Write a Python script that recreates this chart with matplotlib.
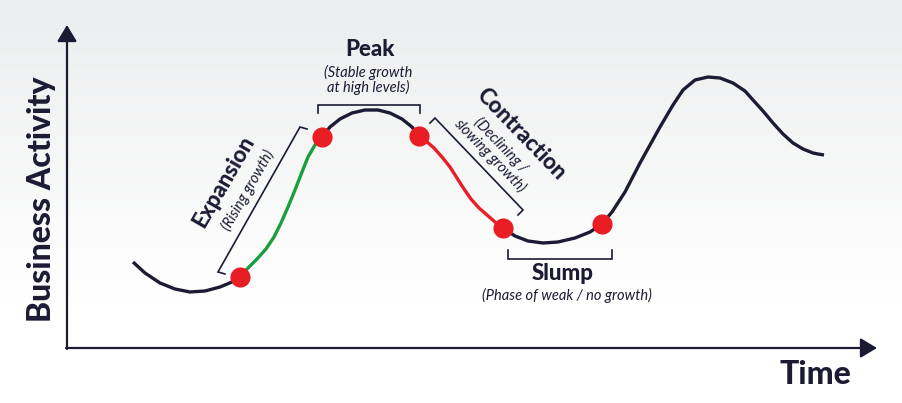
import numpy as np
import matplotlib.pyplot as plt

# colours
NAVY = "#1d1b34"
GREEN = "#1b9e3e"
RED = "#e91e25"

plt.rcParams["font.family"] = ["Lato", "DejaVu Sans"]

# curve (time, activity), split by phase
trough_t = [66, 78, 93, 108, 123, 138, 153, 165, 173]
trough_a = [86, 75, 65, 59, 56, 57, 61, 66, 71]

expansion_t = [173, 181, 190, 199, 207, 214, 221, 228, 235, 241, 248, 255]
expansion_a = [71, 80, 89, 99, 111, 125, 141, 158, 176, 191, 203, 211]

peak_t = [255, 263, 273, 285, 298, 311, 323, 335, 345, 352]
peak_a = [211, 221, 229, 235, 238, 238, 235, 229, 221, 212]

contraction_t = [352, 359, 367, 375, 383, 390, 397, 404, 412, 420, 428, 436]
contraction_a = [212, 207, 200, 191, 181, 170, 159, 149, 140, 133, 126, 120]

slump_t = [436, 448, 461, 476, 491, 508, 523, 535]
slump_a = [120, 112, 107, 105, 106, 110, 116, 124]

recovery_t = [535, 545, 558, 573, 593, 606, 616, 628, 641, 653, 666, 678, 686,
              696, 706, 716, 726, 736, 746, 751, 757]
recovery_a = [124, 136, 156, 185, 221, 243, 258, 268, 271, 270, 265, 257, 248,
              237, 225, 214, 205, 199, 195, 194, 193]

# turning points (red dots)
turn_t = [173, 255, 352, 436, 535]
turn_a = [71, 211, 212, 120, 124]


def draw_bracket(ax, p0, p1, tick, lw=1.2):
    # straight bracket with small end ticks pointing along "tick" vector
    p0 = np.array(p0, float)
    p1 = np.array(p1, float)
    tick = np.array(tick, float)
    pts = np.array([p0 + tick, p0, p1, p1 + tick])
    ax.plot(pts[:, 0], pts[:, 1], color=NAVY, lw=lw, solid_joinstyle="miter", zorder=3)


fig = plt.figure(figsize=(9.02, 4.03), dpi=100)
ax = fig.add_axes([0, 0, 1, 1])
ax.set_xlim(-67, 835)
ax.set_ylim(-55, 348)
ax.axis("off")

# soft grey-to-white background
grad = np.linspace(0, 1, 256)
top = np.array([0.925, 0.929, 0.933])
col = top + (1 - top) * np.clip(grad * 1.35, 0, 1)[:, None]
img = np.repeat(col[:, None, :], 2, axis=1)
ax.imshow(img, extent=(-67, 835, -55, 348), origin="upper", aspect="auto", zorder=0)

# axes with arrow heads
arrow = dict(arrowstyle="-|>,head_length=0.5,head_width=0.3", mutation_scale=20,
             lw=1.6, color=NAVY, shrinkA=0, shrinkB=0)
ax.annotate("", xy=(0, 323), xytext=(0, -1), arrowprops=arrow, zorder=4)
ax.annotate("", xy=(810, 0), xytext=(-1, 0), arrowprops=arrow, zorder=4)

# the cycle curve
lw = 2.4
for t, a in [(trough_t, trough_a), (peak_t, peak_a), (slump_t, slump_a), (recovery_t, recovery_a)]:
    ax.plot(t, a, color=NAVY, lw=lw, solid_capstyle="butt", zorder=5)
ax.plot(expansion_t, expansion_a, color=GREEN, lw=lw, zorder=5)
ax.plot(contraction_t, contraction_a, color=RED, lw=lw, zorder=5)
ax.plot(turn_t, turn_a, "o", ms=14.5, color=RED, mec="none", zorder=6)

# brackets
draw_bracket(ax, (151, 76), (233, 221), (7, -2))
draw_bracket(ax, (251, 243), (353, 243), (0, -8))
draw_bracket(ax, (368, 230), (456, 138), (-5, -5))
draw_bracket(ax, (441, 89), (545, 89), (0, 9))

# labels
BOLD = 900
ax.text(-25, 149, "Business Activity", rotation=90, ha="center", va="center",
        fontsize=23, fontweight=BOLD, color=NAVY)
ax.text(748, -27, "Time", ha="center", va="center",
        fontsize=23, fontweight=BOLD, color=NAVY)

ax.text(303, 298, "Peak", ha="center", va="center", fontsize=16, fontweight=BOLD, color=NAVY)
ax.text(301, 268, "(Stable growth\nat high levels)", ha="center", va="center", fontsize=10.5,
        style="italic", color=NAVY, linespacing=0.95)

ax.text(157, 166, "Expansion", rotation=60, ha="center", va="center",
        fontsize=16, fontweight=BOLD, color=NAVY, rotation_mode="anchor")
ax.text(181, 158, "(Rising growth)", rotation=60, ha="center", va="center",
        fontsize=10.5, style="italic", color=NAVY, rotation_mode="anchor")

ax.text(454, 214, "Contraction", rotation=-46, ha="center", va="center",
        fontsize=16, fontweight=BOLD, color=NAVY, rotation_mode="anchor")
ax.text(428, 198, "(Declining /\nslowing growth)", rotation=-46, ha="center", va="center",
        fontsize=10.5, style="italic", color=NAVY, linespacing=0.95, rotation_mode="anchor")

ax.text(496, 75, "Slump", ha="center", va="center", fontsize=16, fontweight=BOLD, color=NAVY)
ax.text(500, 53, "(Phase of weak / no growth)", ha="center", va="center", fontsize=10.5,
        style="italic", color=NAVY)

fig.savefig("out.png", dpi=100)
